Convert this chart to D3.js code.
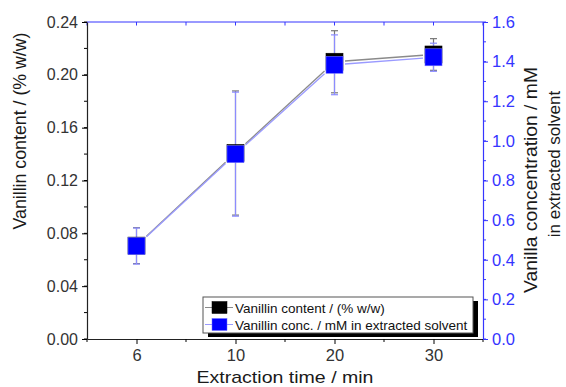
<!DOCTYPE html>
<html><head><meta charset="utf-8">
<script src="https://cdn.jsdelivr.net/npm/d3@7"></script>
<style>
html,body{margin:0;padding:0;background:#fff;}
svg text{font-family:"Liberation Sans",Arial,sans-serif;}
</style></head>
<body><svg id="chart" width="566" height="387"></svg>
<script>
// ---- data ----
const times = ["6", "10", "20", "30"];
const contentVals = [0.0707, 0.1408, 0.2099, 0.2154];
const contentErr  = [0.0136, 0.0470, 0.0235, 0.0120];
const concVals = [0.469, 0.933, 1.384, 1.422];
const concErr  = [0.091, 0.313, 0.151, 0.071];
const leftTicks  = [0, 0.04, 0.08, 0.12, 0.16, 0.20, 0.24];
const rightTicks = [0, 0.2, 0.4, 0.6, 0.8, 1.0, 1.2, 1.4, 1.6];
const xTitle = "Extraction time / min";
const yLeftTitle = "Vanillin content / (% w/w)";
const yRightTitle = ["Vanilla concentration / mM", "in extracted solvent"];
const legendLabels = ["Vanillin content / (% w/w)", "Vanillin conc. / mM in extracted solvent"];

// ---- layout ----
const L = 87, R = 483, T = 22, B = 339;
const blue = "#3535ff", dark = "#333";
const svg = d3.select("#chart");

const x = d3.scalePoint().domain(times).range([L, R]).padding(0.5);
const yL = d3.scaleLinear().domain([0, 0.24]).range([B, T]);
const yR = d3.scaleLinear().domain([0, 1.6]).range([B, T]);
const step = x.step();
const xMinor = [L].concat(times.map(t => x(t) + step / 2));

const leftMinor = d3.range(0, 0.2401, 0.02);
const rightMinor = d3.range(0, 1.601, 0.1);

function styleAxis(g, color, fs) {
  g.select(".domain").attr("stroke", color).attr("stroke-width", 1.2);
  g.selectAll(".tick line").attr("stroke", color).attr("stroke-width", 1);
  g.selectAll(".tick text").attr("fill", color === "#000" ? dark : color)
    .style("font-size", fs + "px").attr("font-family", null);
}

// top axis (blue)
svg.append("line").attr("x1", L).attr("x2", R).attr("y1", T).attr("y2", T)
  .attr("stroke", blue).attr("stroke-width", 1.2);
svg.append("g").selectAll("line").data(times.map(t => x(t)).concat(xMinor)).join("line")
  .attr("x1", d => d).attr("x2", d => d).attr("y1", T).attr("y2", T + 3.5)
  .attr("stroke", blue);

// bottom axis
const gx = svg.append("g").attr("transform", `translate(0,${B})`)
  .call(d3.axisBottom(x).tickSize(5).tickSizeOuter(0).tickPadding(5));
gx.selectAll(".mt").data(xMinor).join("line").attr("class", "mt")
  .attr("x1", d => d).attr("x2", d => d).attr("y1", 0).attr("y2", 3).attr("stroke", "#000");
styleAxis(gx, "#000", 16.5);
gx.select(".domain").attr("stroke", "#222");

// left axis
const gyl = svg.append("g").attr("transform", `translate(${L},0)`)
  .call(d3.axisLeft(yL).tickValues(leftTicks).tickFormat(d3.format(".2f")).tickSize(5).tickSizeOuter(0).tickPadding(4));
gyl.selectAll(".mt").data(leftMinor).join("line").attr("class", "mt")
  .attr("x1", 0).attr("x2", -3).attr("y1", d => yL(d)).attr("y2", d => yL(d)).attr("stroke", "#000");
styleAxis(gyl, "#000", 16);
gyl.select(".domain").attr("stroke", "#222");

// right axis
const gyr = svg.append("g").attr("transform", `translate(${R},0)`)
  .call(d3.axisRight(yR).tickValues(rightTicks).tickFormat(d3.format(".1f")).tickSize(5).tickSizeOuter(0).tickPadding(4));
gyr.selectAll(".mt").data(rightMinor).join("line").attr("class", "mt")
  .attr("x1", 0).attr("x2", 3).attr("y1", d => yR(d)).attr("y2", d => yR(d)).attr("stroke", blue);
styleAxis(gyr, blue, 16.5);

// axis titles
svg.append("text").attr("x", 285).attr("y", 383).attr("text-anchor", "middle")
  .attr("textLength", 177).attr("lengthAdjust", "spacingAndGlyphs")
  .style("font-size", "17px").attr("fill", "#1a1a1a").text(xTitle);
svg.append("text").attr("transform", `translate(26,131) rotate(-90)`).attr("text-anchor", "middle")
  .attr("textLength", 197).attr("lengthAdjust", "spacingAndGlyphs")
  .style("font-size", "17.5px").attr("fill", "#1a1a1a").text(yLeftTitle);
svg.append("text").attr("transform", `translate(537,180) rotate(-90)`).attr("text-anchor", "middle")
  .attr("textLength", 226).attr("lengthAdjust", "spacingAndGlyphs")
  .style("font-size", "17.5px").attr("fill", "#1a1a1a").text(yRightTitle[0]);
svg.append("text").attr("transform", `translate(560,164) rotate(-90)`).attr("text-anchor", "middle")
  .style("font-size", "17px").attr("fill", "#1a1a1a").text(yRightTitle[1]);

// series
const series = [
  {vals: contentVals, err: contentErr, y: yL, fill: "#000", line: "#8a8a8a", errc: "#777", stroke: "#000"},
  {vals: concVals, err: concErr, y: yR, fill: "#0000ff", line: "#9a9aff", errc: "#8c8cff", stroke: "#6f6fff"}
];
const half = 8.5;
series.forEach(s => {
  const pts = times.map((t, i) => [x(t), s.y(s.vals[i])]);
  const segs = d3.pairs(pts).map(([a, b]) => {
    const dx = b[0] - a[0], dy = b[1] - a[1], len = Math.hypot(dx, dy);
    const ux = dx / len, uy = dy / len;
    const tr = half / Math.max(Math.abs(ux), Math.abs(uy)) + 2;
    return [a[0] + ux * tr, a[1] + uy * tr, b[0] - ux * tr, b[1] - uy * tr];
  });
  svg.append("g").selectAll("line").data(segs).join("line")
    .attr("x1", d => d[0]).attr("y1", d => d[1]).attr("x2", d => d[2]).attr("y2", d => d[3])
    .attr("stroke", s.line).attr("stroke-width", 1.3);
  const eg = svg.append("g").attr("stroke", s.errc).attr("stroke-width", 1.2);
  times.forEach((t, i) => {
    const cx = x(t), y1 = s.y(s.vals[i] + s.err[i]), y0 = s.y(s.vals[i] - s.err[i]);
    eg.append("line").attr("x1", cx).attr("x2", cx).attr("y1", y1).attr("y2", y0);
    eg.append("line").attr("x1", cx - 3.5).attr("x2", cx + 3.5).attr("y1", y1).attr("y2", y1);
    eg.append("line").attr("x1", cx - 3.5).attr("x2", cx + 3.5).attr("y1", y0).attr("y2", y0);
  });
});
series.forEach(s => {
  svg.append("g").selectAll("rect").data(times).join("rect")
    .attr("x", t => x(t) - half).attr("y", (t, i) => s.y(s.vals[i]) - half)
    .attr("width", half * 2).attr("height", half * 2)
    .attr("fill", s.fill).attr("stroke", s.stroke).attr("stroke-width", 0.6);
});

// legend
const lg = svg.append("g");
lg.append("rect").attr("x", 208).attr("y", 301).attr("width", 270).attr("height", 36).attr("fill", "#000");
lg.append("rect").attr("x", 203).attr("y", 297).attr("width", 270).attr("height", 36)
  .attr("fill", "#fff").attr("stroke", "#555").attr("stroke-width", 1);
series.forEach((s, i) => {
  const cy = 307.5 + i * 17;
  lg.append("line").attr("x1", 205).attr("x2", 233).attr("y1", cy).attr("y2", cy)
    .attr("stroke", s.line).attr("stroke-width", 1);
  lg.append("rect").attr("x", 212).attr("y", cy - 6).attr("width", 15).attr("height", 12)
    .attr("fill", s.fill).attr("stroke", s.stroke).attr("stroke-width", 0.5);
  lg.append("text").attr("x", 235).attr("y", cy + 5).style("font-size", "13.5px")
    .attr("fill", "#111").text(legendLabels[i]);
});
</script></body></html>
